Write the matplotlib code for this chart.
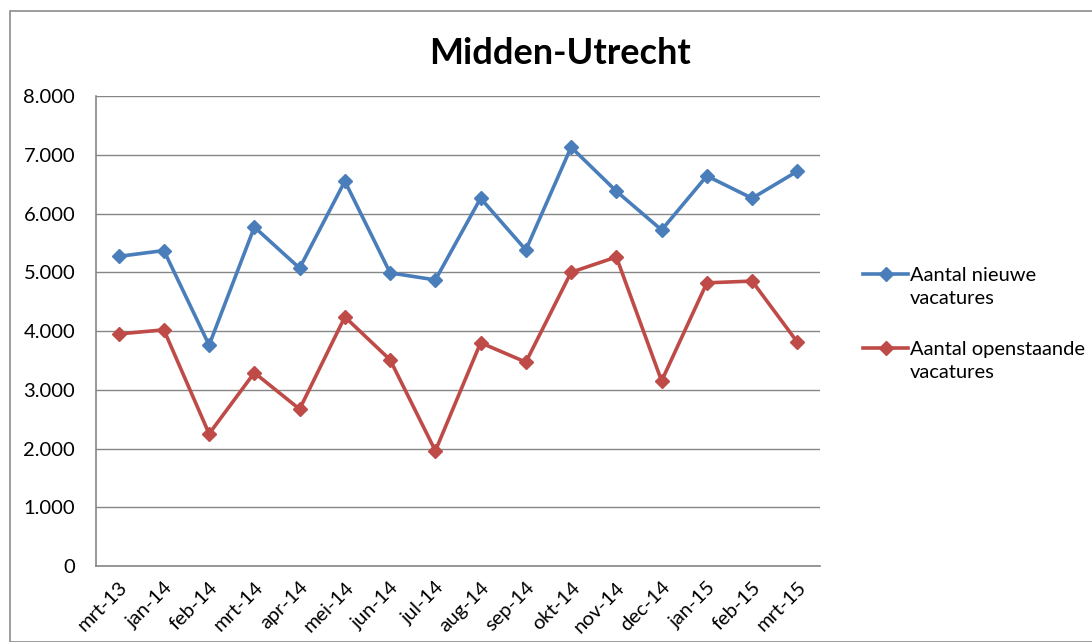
import matplotlib
matplotlib.use("Agg")
import matplotlib.pyplot as plt
from matplotlib.patches import Rectangle
from matplotlib.lines import Line2D

# data
maanden = ["mrt-13", "jan-14", "feb-14", "mrt-14", "apr-14", "mei-14", "jun-14", "jul-14",
           "aug-14", "sep-14", "okt-14", "nov-14", "dec-14", "jan-15", "feb-15", "mrt-15"]
nieuwe = [5270, 5370, 3760, 5770, 5070, 6550, 4990, 4870,
          6260, 5380, 7130, 6380, 5720, 6640, 6260, 6720]
openstaande = [3950, 4020, 2250, 3290, 2670, 4240, 3510, 1960,
               3800, 3470, 5000, 5260, 3150, 4820, 4850, 3810]
y_ticks = [0, 1000, 2000, 3000, 4000, 5000, 6000, 7000, 8000]
y_labels = ["0", "1.000", "2.000", "3.000", "4.000", "5.000", "6.000", "7.000", "8.000"]

plt.rcParams['font.family'] = ['Lato', 'DejaVu Sans']

fig = plt.figure(figsize=(10.92, 6.42), dpi=100)
ax = fig.add_axes([0.0879, 0.1184, 0.663, 0.732])

# outer chart border
fig.patches.append(Rectangle((10 / 1092, 0), 1.1, 1 - 11 / 642, transform=fig.transFigure,
                             fill=False, edgecolor='#8c8c8c', linewidth=1.2))

x = list(range(len(maanden)))
l1, = ax.plot(x, nieuwe, color='#4A7EBB', linewidth=2.6, marker='D', markersize=7)
l2, = ax.plot(x, openstaande, color='#BE4B48', linewidth=2.6, marker='D', markersize=7)

ax.set_xlim(-0.5, len(maanden) - 0.5)
ax.set_ylim(0, 8000)
ax.set_yticks(y_ticks)
ax.set_yticklabels(y_labels, fontsize=14.5)
ax.set_xticks(x)
ax.set_xticklabels(maanden, rotation=45, ha='right', rotation_mode='anchor', fontsize=14.5)
ax.tick_params(axis='y', length=0, pad=15)
ax.tick_params(axis='x', length=0, pad=9)
ax.grid(axis='y', color='#868686', linewidth=1)
ax.set_axisbelow(True)
ax.spines['top'].set_visible(False)
ax.spines['right'].set_visible(False)
for s in ax.spines.values():
    s.set_color('#868686')
    s.set_linewidth(1.2)

fig.text(560 / 1092, 1 - 53 / 642, 'Midden-Utrecht', fontsize=26, fontweight='bold',
         ha='center', va='center')

# legend: handle next to first line of the label, like Excel
leeg = Line2D([], [], linestyle='none', marker=None)
kw = dict(loc='center left', frameon=False, fontsize=14.5, handlelength=2.2,
          handletextpad=0.1, labelspacing=0.3, borderaxespad=0, borderpad=0)
leg1 = ax.legend([l1, leeg], ['Aantal nieuwe', 'vacatures'],
                 bbox_to_anchor=(1.06, 0.593), **kw)
ax.add_artist(leg1)
ax.legend([l2, leeg], ['Aantal openstaande', 'vacatures'],
          bbox_to_anchor=(1.06, 0.437), **kw)

fig.savefig('out.png', dpi=100)
